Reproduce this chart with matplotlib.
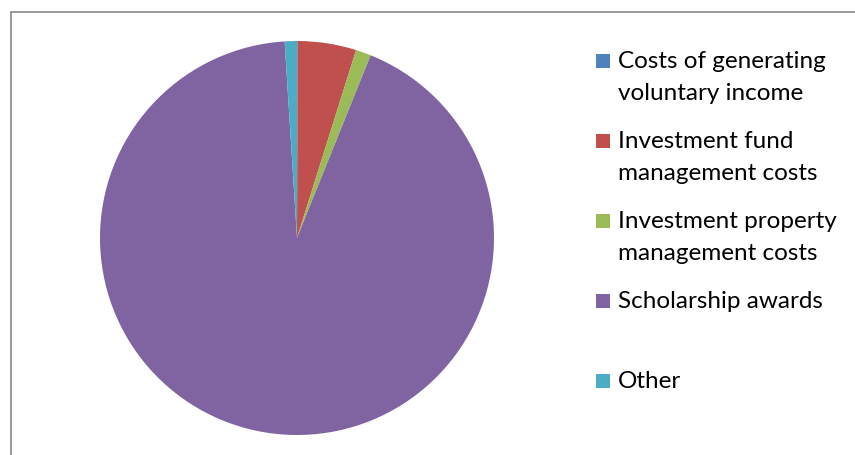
import matplotlib
matplotlib.use('Agg')
import matplotlib.pyplot as plt
from matplotlib.patches import Rectangle

labels = ['Costs of generating\nvoluntary income',
          'Investment fund\nmanagement costs',
          'Investment property\nmanagement costs',
          'Scholarship awards',
          'Other']
values = [0.05, 4.8, 1.25, 92.9, 1.0]
colors = ['#4F81BD', '#C0504D', '#9BBB59', '#8064A2', '#4BACC6']

W, H = 855, 455
fig = plt.figure(figsize=(W / 100, H / 100), dpi=100)
plt.rcParams['font.family'] = ['Lato', 'DejaVu Sans']

# outer chart border (runs off the right and bottom edges)
fig.patches.append(Rectangle((11 / W, -0.1), 1.0, (H - 12) / H + 0.1,
                             transform=fig.transFigure, fill=False,
                             edgecolor='#868686', linewidth=1.2))

# pie centred at (297, 238) px with radius ~197 px
cx, cy, r = 297, 238, 197
ax = fig.add_axes([(cx - r) / W, (H - cy - r) / H, 2 * r / W, 2 * r / H])
ax.pie(values, colors=colors, startangle=90, counterclock=False,
       radius=1.0, wedgeprops=dict(linewidth=0))
ax.set_xlim(-1, 1)
ax.set_ylim(-1, 1)
ax.set_aspect('equal')
ax.axis('off')

# legend, Excel-style: marker aligned with first line of each entry
line_gap = 32
for i, (lab, col) in enumerate(zip(labels, colors)):
    base = 68 + 80 * i  # baseline of first line, px from top
    fig.patches.append(Rectangle((596 / W, (H - base) / H), 14 / W, 14 / H,
                                 transform=fig.transFigure,
                                 facecolor=col, edgecolor='none'))
    for k, line in enumerate(lab.split('\n')):
        fig.text(618 / W, (H - base - k * line_gap) / H, line,
                 fontsize=17.5, color='#000000', va='baseline', ha='left',
                 transform=fig.transFigure)

fig.savefig('out.png', dpi=100)
